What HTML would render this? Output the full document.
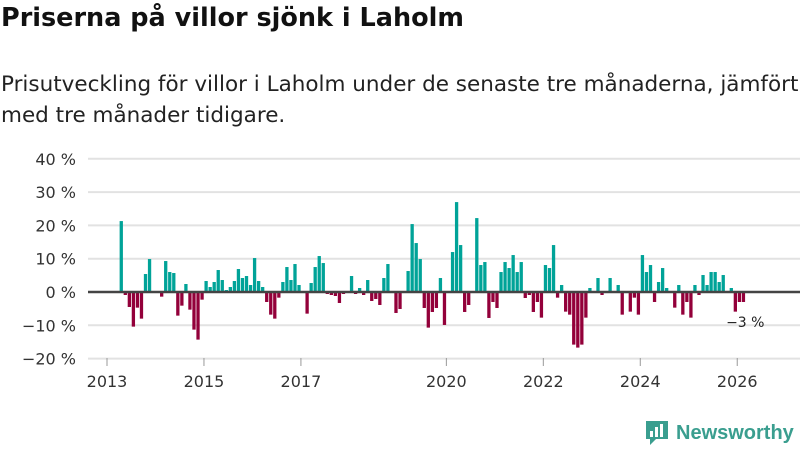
<!DOCTYPE html>
<html><head><meta charset="utf-8"><style>
body{margin:0;width:800px;height:450px;background:#fff;font-family:"Liberation Sans","DejaVu Sans",sans-serif;overflow:hidden;position:relative;color:#222}
h1{position:absolute;left:1px;top:3px;margin:0;font-family:"DejaVu Sans",sans-serif;font-size:25.5px;font-weight:bold;color:#111;white-space:nowrap}
p{position:absolute;left:1px;top:69px;margin:0;font-family:"DejaVu Sans",sans-serif;font-size:21.5px;line-height:31px;color:#222;white-space:nowrap}
svg{position:absolute;left:0;top:0}
</style></head><body>
<h1>Priserna på villor sjönk i Laholm</h1>
<p>Prisutveckling för villor i Laholm under de senaste tre månaderna, jämfört<br>med tre månader tidigare.</p>
<svg id="c" width="800" height="450"></svg>
<script>
const startMonth = 3; // months after Jan 2013
const values = [21.3,-0.9,-4.5,-10.4,-4.7,-8,5.4,9.9,0,0,-1.4,9.3,6,5.7,-7.1,-4.1,2.4,-5.3,-11.3,-14.3,-2.3,3.3,1.5,3,6.6,3.6,0.6,1.5,3.3,6.9,4.2,4.8,2.1,10.2,3.3,1.5,-3,-6.8,-8,-1.7,3,7.5,3.6,8.4,2.1,0,-6.5,2.7,7.5,10.8,8.7,-0.6,-0.9,-1.2,-3.3,-0.6,0,4.8,-0.6,1.2,-0.9,3.6,-2.7,-2.1,-3.9,4.2,8.4,0,-6.3,-5.1,0,6.3,20.4,14.7,9.9,-4.8,-10.7,-6,-4.8,4.2,-9.9,0,12,27,14.1,-6,-3.9,0,22.2,8.1,9,-7.8,-3,-4.8,6,9,7.2,11.1,6,9,-1.8,-0.9,-6,-3,-7.7,8.1,7.2,14.1,-1.7,2.1,-5.9,-6.8,-15.8,-16.7,-15.8,-7.7,1.2,0,4.2,-0.9,0,4.2,0,2.1,-6.8,0,-5.9,-1.7,-6.8,11.1,6,8.1,-3,3,7.2,1.2,0,-4.7,2.1,-6.8,-3,-7.7,2.1,-0.9,5.1,2.1,6,6,3,5.1,0,1.2,-5.9,-3,-3];
const yTicks = [40,30,20,10,0,-10,-20];
const yTickLabels = ["40 %","30 %","20 %","10 %","0 %","−10 %","−20 %"];
const xTickYears = [2013,2015,2017,2020,2022,2024,2026];
const lastLabel = "−3 %";

const svg = document.getElementById('c');
const NS = 'http://www.w3.org/2000/svg';
const y = v => 292 - v * 3.33;
const x = m => 107 + m * 4.04;
function mk(t, a){const e=document.createElementNS(NS,t);for(const k in a)e.setAttribute(k,a[k]);svg.appendChild(e);return e;}
yTicks.forEach((v,i)=>{
  if(v!==0){const g=mk('line',{x1:88,x2:800,y1:y(v),y2:y(v),stroke:'#e2e2e2','stroke-width':2});
  
  }
  const t=mk('text',{x:76,y:y(v)+6,'text-anchor':'end','font-size':16,fill:'#333','font-family':'DejaVu Sans, sans-serif'});
  t.textContent=yTickLabels[i];
  
  
});
values.forEach((v,i)=>{
  if(v===0) return;
  const m=startMonth+i;
  const r=mk('rect',{x:x(m)+0.5,width:3.3,y:v>0?y(v):y(0),height:Math.abs(v)*3.33,fill:v>0?'#00a398':'#93003a'});
  
  
});
const z=mk('line',{x1:88,x2:800,y1:y(0),y2:y(0),stroke:'#444','stroke-width':2.5});


xTickYears.forEach(yr=>{
  const xx=x((yr-2013)*12);
  const tk=mk('line',{x1:xx,x2:xx,y1:358,y2:366,stroke:'#999','stroke-width':1});
  
  
  const t=mk('text',{x:xx,y:387,'text-anchor':'middle','font-size':16,fill:'#333','font-family':'DejaVu Sans, sans-serif'});
  t.textContent=yr;
  
  
});
const li=values.length-1;
const lb=mk('text',{x:x(startMonth+li)+4,y:y(values[li])+25,'text-anchor':'middle','font-size':14,fill:'#222','font-family':'DejaVu Sans, sans-serif'});
lb.textContent=lastLabel;


</script>
<div style="position:absolute;left:644px;top:419px;display:flex;align-items:center">
<svg width="26" height="28" style="position:static"><path d="M2 2h22v18h-12l-6 6v-6h-4z" fill="#3a9e8f"/><rect x="6" y="12" width="3" height="6" fill="#fff"/><rect x="11" y="8" width="3" height="10" fill="#fff"/><rect x="16" y="5" width="3" height="13" fill="#fff"/></svg>
<span style="font-size:20px;font-weight:bold;color:#3a9e8f;margin-left:6px">Newsworthy</span></div>
</body></html>
